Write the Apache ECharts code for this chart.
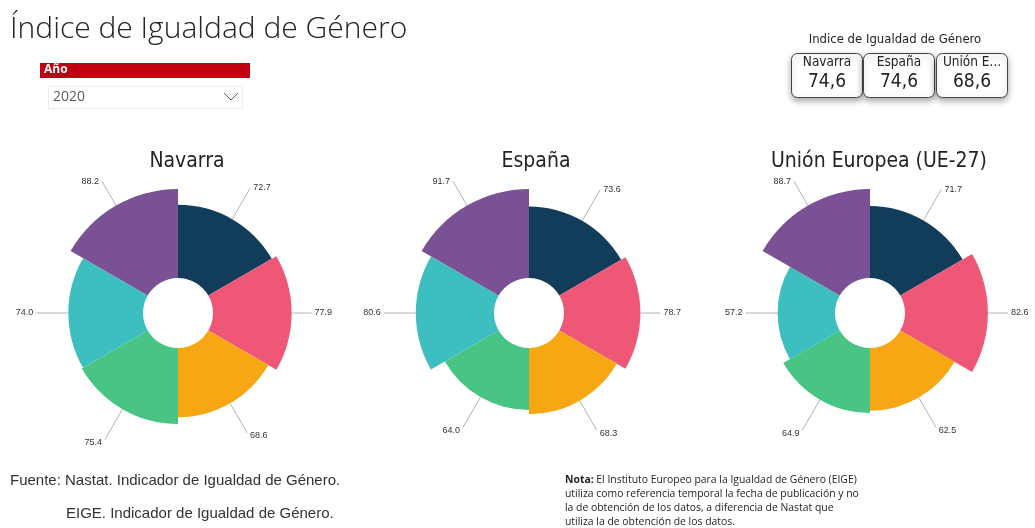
<!DOCTYPE html>
<html lang="es">
<head>
    <meta charset="UTF-8">
    <title>Índice de Igualdad de Género</title>
    <script src="https://cdn.jsdelivr.net/npm/echarts@6/dist/echarts.min.js"></script>
    <style>
        html, body { margin: 0; padding: 0; background: #fff; }
    </style>
</head>
<body>
<div id="main" style="width: 1035px;height:528px;"></div>
<script>
    // dominios del indice (orden de los sectores, en el sentido del reloj desde arriba)
    const dominios = ['Trabajo', 'Dinero', 'Conocimiento', 'Tiempo', 'Poder', 'Salud'];
    const colores = ['#123d5a', '#ef5777', '#f7a614', '#48c585', '#3dbfc1', '#7a5194'];

    const regiones = ['Navarra', 'España', 'Unión Europea (UE-27)'];
    const navarra = [72.7, 77.9, 68.6, 75.4, 74.0, 88.2];
    const espana = [73.6, 78.7, 68.3, 64.0, 80.6, 91.7];
    const ue27 = [71.7, 82.6, 62.5, 64.9, 57.2, 88.7];
    const valoresRegion = [navarra, espana, ue27];

    // tarjetas de arriba a la derecha
    const tarjetas = ['Navarra', 'España', 'Unión E...'];
    const indiceTotal = ['74,6', '74,6', '68,6'];

    const anio = '2020';

    let chart = echarts.init(document.getElementById('main'));

    const centrosX = [178, 529, 870];
    const titulosX = [182, 531, 874];
    // largo de la linea de cada etiqueta, medido desde el borde del sector
    const largoLinea = [36, 20, 34, 35, 32, 28];

    // echarts mide la linea desde el radio maximo; aqui se rehace desde el borde del sector
    function colocarEtiqueta(p) {
        const pts = p.labelLinePoints;
        if (!pts || pts.length < 2) {
            return {};
        }
        const x0 = pts[0][0], y0 = pts[0][1];
        let dx = pts[1][0] - x0, dy = pts[1][1] - y0;
        const n = Math.sqrt(dx * dx + dy * dy) || 1;
        dx /= n;
        dy /= n;
        const L = largoLinea[p.dataIndex];
        const x1 = x0 + dx * L, y1 = y0 + dy * L;
        const izq = dx < 0;
        return {
            x: x1 + (izq ? -3 : 3),
            y: y1 + (dy > 0.3 ? 3 : 0),
            align: izq ? 'right' : 'left',
            verticalAlign: 'middle',
            labelLinePoints: [[x0, y0], [x1, y1], [x1, y1]]
        };
    }

    let series = [];
    let titles = [{
        text: 'Índice de Igualdad de Género',
        left: 5,
        top: 9,
        textStyle: {fontFamily: 'Open Sans', fontWeight: 300, fontSize: 30, color: '#252423'}
    }];

    for (let i = 0; i < regiones.length; i++) {
        titles.push({
            text: regiones[i],
            left: titulosX[i],
            top: 146,
            textAlign: 'center',
            textStyle: {fontFamily: 'DejaVu Sans Condensed', fontWeight: 'normal', fontSize: 21, color: '#252423'}
        });
        series.push({
            name: regiones[i],
            type: 'pie',
            roseType: 'area',
            center: [centrosX[i], 313],
            radius: [35, 124],
            startAngle: 90,
            clockwise: true,
            silent: true,
            avoidLabelOverlap: false,
            itemStyle: {borderWidth: 0},
            label: {
                show: true,
                formatter: function (p) { return p.value.toFixed(1); },
                fontFamily: 'Arial',
                fontSize: 9,
                color: '#333'
            },
            labelLine: {
                show: true,
                length: 10,
                length2: 0,
                lineStyle: {color: '#b3b3b3', width: 1}
            },
            labelLayout: colocarEtiqueta,
            data: valoresRegion[i].map((v, k) => ({
                name: dominios[k],
                value: v,
                itemStyle: {color: colores[k]}
            }))
        });
    }

    // elementos graficos: filtro de año, tarjetas, notas
    let graficos = [
        {type: 'rect', shape: {x: 40, y: 63, width: 210, height: 15}, style: {fill: '#c00010'}},
        {type: 'text', x: 44, y: 64, style: {text: 'Año', fill: '#fff', font: 'bold 12px "Open Sans"'}},
        {type: 'rect', shape: {x: 48.5, y: 86.5, width: 194, height: 22}, style: {fill: '#fff', stroke: '#ececec', lineWidth: 1}},
        {type: 'text', x: 53, y: 90, style: {text: anio, fill: '#605e5c', font: '14px "Open Sans"'}},
        {type: 'polyline', shape: {points: [[224, 93], [231, 100], [238, 93]]}, style: {stroke: '#605e5c', lineWidth: 1, fill: null}},
        {type: 'text', x: 895, y: 33, style: {text: 'Indice de Igualdad de Género', fill: '#252423', font: '13px "DejaVu Sans Condensed"', textAlign: 'center'}}
    ];

    const tarjetasX = [791, 863, 936];
    for (let i = 0; i < tarjetas.length; i++) {
        graficos.push({
            type: 'rect',
            shape: {x: tarjetasX[i] + 0.5, y: 53.5, width: 71, height: 44, r: 6},
            style: {fill: '#fff', stroke: '#444', lineWidth: 1, shadowBlur: 6, shadowOffsetY: 3, shadowColor: 'rgba(0,0,0,0.35)'}
        });
        graficos.push({
            type: 'text', x: tarjetasX[i] + 36, y: 55,
            style: {text: tarjetas[i], fill: '#252423', font: '13.5px "DejaVu Sans Condensed"', textAlign: 'center'}
        });
        graficos.push({
            type: 'text', x: tarjetasX[i] + 36, y: 73,
            style: {text: indiceTotal[i], fill: '#252423', font: '19px "DejaVu Sans Condensed"', textAlign: 'center'}
        });
    }

    graficos.push(
        {type: 'text', x: 10, y: 473, style: {text: 'Fuente: Nastat. Indicador de Igualdad de Género.', fill: '#333', font: '15px Arial'}},
        {type: 'text', x: 66, y: 506, style: {text: 'EIGE. Indicador de Igualdad de Género.', fill: '#333', font: '15px Arial'}},
        {
            type: 'text', x: 565, y: 473,
            style: {
                text: '{b|Nota:} El Instituto Europeo para la Igualdad de Género (EIGE)\nutiliza como referencia temporal la fecha de publicación y no\nla de obtención de los datos, a diferencia de Nastat que\nutiliza la de obtención de los datos.',
                fill: '#252423',
                font: '10.4px "Open Sans"',
                lineHeight: 14,
                rich: {b: {fontWeight: 'bold', fontSize: 10.4, fontFamily: 'Open Sans', fill: '#252423'}}
            }
        }
    );

    let option = {
        backgroundColor: '#fff',
        animation: false,
        title: titles,
        series: series,
        graphic: graficos
    };
    chart.setOption(option);
</script>
</body>
</html>
